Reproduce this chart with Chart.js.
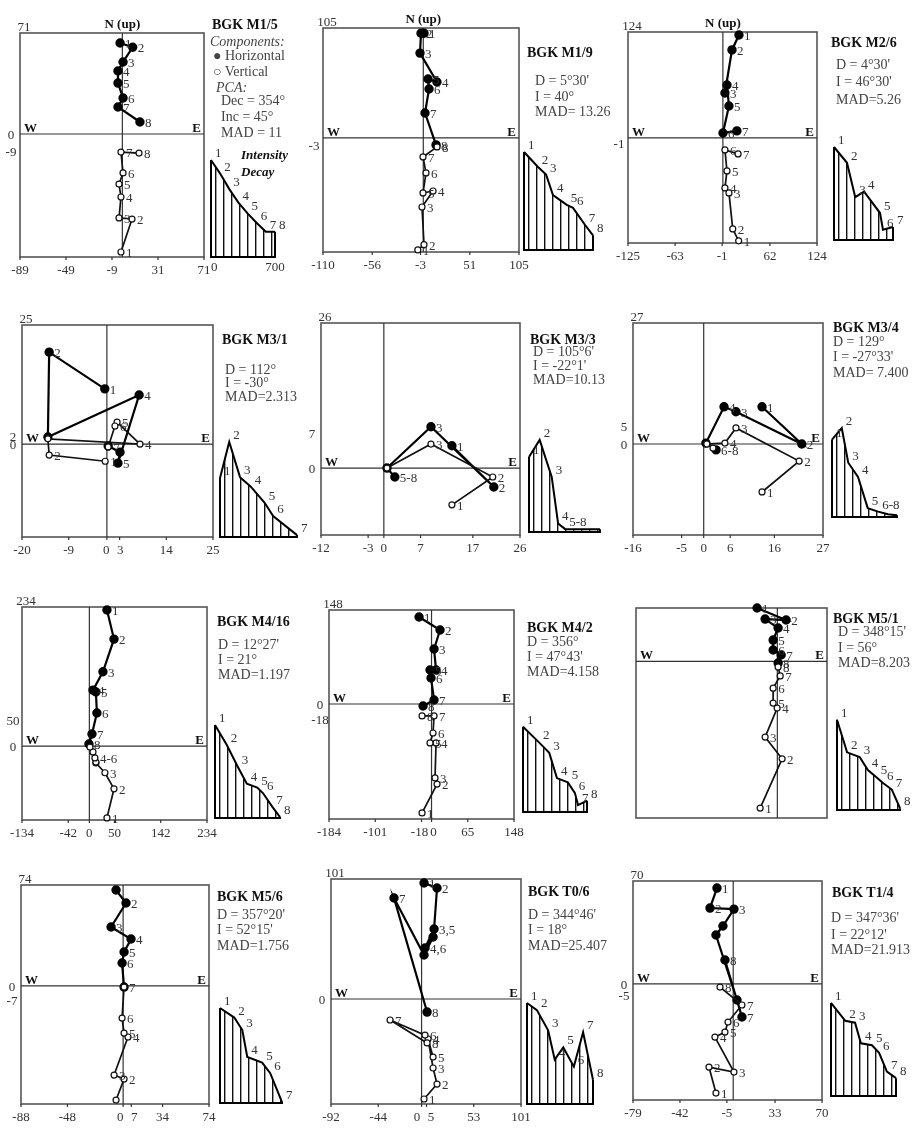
<!DOCTYPE html>
<html>
<head>
<meta charset="utf-8">
<script src="https://cdn.jsdelivr.net/npm/chart.js@4.4.0/dist/chart.umd.min.js"></script>
<style>
    html, body { margin: 0; padding: 0; background: #fff; }
    #sheet { position: relative; width: 919px; height: 1131px; overflow: hidden;
        font-family: "Liberation Serif", "Times New Roman", serif; color: #222; }
    #sheet canvas { position: absolute; }
    .t { position: absolute; white-space: nowrap; line-height: 1; font-size: 13px; }
    .tick { color: #333; }
    .bold { font-weight: bold; color: #111; }
    .ital { font-style: italic; }
    .title { font-weight: bold; font-size: 14px; color: #111; }
    .info { font-size: 14px; color: #444; }
    .num { color: #333; }
</style>
</head>
<body>
<div id="sheet"></div>
<script>
// ---- values (axis units; decay = relative intensity) ----

// BGK M1/5
const ticksM15 = [-89, -49, -9, 31, 71];
const horizM15 = [[-2, 64], [9, 61], [0.6, 50.6], [-3.8, 44.3], [-3.8, 35.8], [0.6, 25.3], [-3.8, 19], [15.3, 8.4]];
const vertM15 = [[-1.2, -83], [8.4, -59.8], [-2.9, -59], [-1.2, -44.3], [-2.9, -35.2], [0.6, -27.4], [-1.2, -12.7], [14.5, -13.4]];
const stepsM15 = [0, 100, 200, 300, 400, 500, 600, 700];
const decayM15 = [1, 0.86, 0.70, 0.56, 0.45, 0.35, 0.26, 0.26];
const infoM15 = ['Dec = 354°', 'Inc = 45°', 'MAD = 11'];

// BGK M1/9
const ticksM19 = [-110, -56, -3, 51, 105];
const horizM19 = [[0.8, 100], [-2.5, 100], [-3.6, 81], [15, 53.4], [5.2, 56.3], [6.3, 46.7], [1.9, 23.8], [14, -6.7]];
const vertM19 = [[-6, -107], [0.8, -102], [-1.4, -66], [10.7, -50.7], [-0.3, -52.6], [3, -33.5], [-0.3, -18.2], [15.1, -8.6]];
const stepsM19 = [0, 20, 32, 42, 62, 71, 88, 100];
const decayM19 = [1, 0.85, 0.77, 0.56, 0.46, 0.43, 0.26, 0.15];
const infoM19 = ["D = 5°30'", 'I = 40°', 'MAD= 13.26'];

// BGK M2/6
const ticksM26 = [-125, -63, -1, 62, 124];
const horizM26 = [[21.2, 120.5], [12, 103], [2.7, 52.6], [5.4, 62], [8, 37.4], [0.1, 5.8], [18.5, 8.2]];
const vertM26 = [[20.8, -120.5], [13, -106.5], [8, -64.4], [2.7, -58.5], [5.4, -38.6], [2.7, -14], [20, -18.7]];
const stepsM26 = [0, 22, 36, 51, 78, 83, 100];
const decayM26 = [1, 0.83, 0.46, 0.52, 0.29, 0.11, 0.14];
const infoM26 = ["D = 4°30'", "I = 46°30'", 'MAD=5.26'];

// BGK M3/1
const ticksM31 = [-20, -9, 0, 3, 14, 25];
const horizM31 = [[-0.5, 11.6], [-13.6, 19.3], [-13.9, 1.5], [7.6, 10.3], [2.6, -4], [3.1, -1.7], [0.3, -0.4]];
const vertM31 = [[-0.4, -3.6], [-13.6, -2.3], [-13.9, 1.1], [7.8, 0], [2.4, 4.6], [1.9, 3.8], [0.3, -0.6]];
const hLabM31 = ['1', '2', '', '4', '5', '', ''];
const vLabM31 = ['1', '2', '', '4', '5', '6', '7'];
const stepsM31 = [0, 12, 26, 40, 58, 69, 100];
const decayM31 = [0.62, 1, 0.63, 0.53, 0.36, 0.22, 0.02];
const infoM31 = ['D = 112°', 'I = -30°', 'MAD=2.313'];

// BGK M3/3
const ticksM33 = [-12, -3, 0, 7, 17, 26];
const horizM33 = [[13, 4], [21, -3.4], [9, 7.4], [0.6, 0], [2.1, -1.6]];
const vertM33 = [[13, -6.6], [20.8, -1.6], [9, 4.3], [0.6, 0]];
const hLabM33 = ['1', '2', '3', '', '5-8'];
const vLabM33 = ['1', '2', '3', ''];
const stepsM33 = [0, 15, 32, 41, 51, 65, 83, 100];
const decayM33 = [0.79, 0.97, 0.58, 0.09, 0.03, 0.03, 0.03, 0.03];
const dLabM33 = ['1', '2', '3', '4', '5-8', '', '', ''];
const infoM33 = ["D = 105°6'", "I = -22°1'", 'MAD=10.13'];

// BGK M3/4
const ticksM34 = [-16, -5, 0, 6, 16, 27];
const horizM34 = [[13.2, 8.3], [22.2, 0], [7.3, 7.2], [4.6, 8.3], [0.5, 0.2], [2.8, -1.3]];
const vertM34 = [[13.2, -10.7], [21.6, -3.8], [7.3, 3.6], [4.8, 0.2], [0.7, 0], [2.1, -0.9]];
const hLabM34 = ['1', '2', '3', '4', '', '6-8'];
const vLabM34 = ['1', '2', '3', '4', '', ''];
const stepsM34 = [0, 15, 25, 40, 55, 71, 86, 100];
const decayM34 = [0.87, 1, 0.61, 0.45, 0.1, 0.06, 0.03, 0.02];
const dLabM34 = ['1', '2', '3', '4', '5', '6-8', '', ''];
const infoM34 = ['D = 129°', "I = -27°33'", 'MAD= 7.400'];

// BGK M4/16
const ticksM416 = [-134, -42, 0, 50, 142, 234];
const horizM416 = [[35, 229], [49, 180], [27, 125], [7.2, 94], [13, 91], [15, 55.6], [5.2, 20.3], [-0.8, 3.4]];
const vertM416 = [[35, -121], [49, -72], [31, -45], [13, -28.5], [13, -27], [11, -20], [7.2, -10], [1.2, -1.7]];
const vLabM416 = ['1', '2', '3', '', '', '4-6', '', ''];
const stepsM416 = [0, 18, 35, 49, 65, 74, 88, 100];
const decayM416 = [0.98, 0.77, 0.54, 0.36, 0.32, 0.26, 0.12, 0.01];
const infoM416 = ["D = 12°27'", 'I = 21°', 'MAD=1.197'];

// BGK M4/2
const ticksM42 = [-184, -101, -18, 0, 65, 148];
const horizM42 = [[-22.4, 137], [15.3, 116.5], [4.5, 86.6], [8.1, 53.6], [-2.7, 53.6], [-0.9, 41], [4.5, 6.3], [-15.2, -3.1]];
const vertM42 = [[-17, -171.5], [9.9, -126], [6.3, -116.4], [8.1, -61.3], [-2.7, -61.3], [2.7, -45.6], [4.5, -18.8], [-17, -18.8]];
const stepsM42 = [0, 25, 41, 53, 70, 81, 86, 100];
const decayM42 = [0.98, 0.8, 0.68, 0.39, 0.34, 0.22, 0.08, 0.13];
const infoM42 = ['D = 356°', "I = 47°43'", 'MAD=4.158'];

// BGK M5/1 (no scale printed)
const horizM51 = [[-10.6, 28], [4.6, 21.7], [-6.4, 22.2], [0.4, 17.5], [-2.2, 11.2], [-2.2, 6], [2, 3.4], [0.4, -0.8]];
const vertM51 = [[-9, -76.8], [2.5, -51], [-6.4, -39.6], [-0.1, -24.4], [-2.2, -21.8], [-2.2, -14], [1.5, -7.6], [0.4, -2.9]];
const stepsM51 = [0, 16, 36, 49, 63, 73, 87, 100];
const decayM51 = [0.97, 0.62, 0.57, 0.43, 0.35, 0.29, 0.22, 0.02];
const infoM51 = ["D = 348°15'", 'I = 56°', 'MAD=8.203'];

// BGK M5/6
const ticksM56 = [-88, -48, 0, 7, 34, 74];
const horizM56 = [[-6.1, 70.3], [2.5, 60.8], [-10.4, 43.2], [6.8, 34.4], [0.8, 24.9], [-0.9, 16.8], [0.8, -0.8]];
const vertM56 = [[-6.1, -83.6], [0.8, -68.2], [-7.8, -65.3], [4.2, -37.4], [0.8, -34.5], [-0.9, -23.5], [0.8, -0.8]];
const hLabM56 = ['', '2', '3', '4', '5', '6', '7'];
const vLabM56 = ['', '2', '3', '4', '5', '6', ''];
const stepsM56 = [0, 23, 36, 44, 68, 81, 100];
const decayM56 = [0.99, 0.89, 0.76, 0.48, 0.42, 0.31, 0.01];
const infoM56 = ["D = 357°20'", "I = 52°15'", 'MAD=1.756'];

// BGK T0/6
const ticksT06 = [-92, -44, 0, 5, 53, 101];
const horizT06 = [[2.5, 97.6], [15.7, 93.4], [12.7, 58.9], [3.5, 42.9], [11.7, 52.2], [2.5, 37], [-28, 85], [5.6, -11]];
const vertT06 = [[2.5, -84.2], [15.7, -71.6], [11.7, -58.1], [6.6, -33.7], [11.7, -48.9], [3.5, -30.4], [-32, -17.7], [5.6, -37]];
const hLabT06 = ['1', '2', '3,5', '4,6', '', '', '7', '8'];
const stepsT06 = [0, 15, 32, 42, 55, 71, 85, 100];
const decayT06 = [1, 0.93, 0.73, 0.44, 0.56, 0.37, 0.71, 0.24];
const infoT06 = ["D = 344°46'", 'I = 18°', 'MAD=25.407'];

// BGK T1/4
const ticksT14 = [-79, -42, -5, 33, 70];
const horizT14 = [[-12.8, 65.2], [-18.3, 51.6], [0.6, 50.9], [-8.1, 39.4], [-13.6, 33.3], [3, -10.9], [6.9, -22.5], [-6.5, 16.3]];
const vertT14 = [[-13.6, -74.2], [-19.1, -56.5], [0.6, -59.9], [-14.4, -36.1], [-6.5, -32.7], [-4.1, -25.9], [6.9, -14.3], [-10.4, -2.1]];
const hLabT14 = ['1', '2', '3', '', '', '', '7', '8'];
const stepsT14 = [0, 22, 37, 46, 63, 74, 86, 100];
const decayT14 = [0.99, 0.8, 0.78, 0.56, 0.54, 0.46, 0.26, 0.19];
const infoT14 = ["D = 347°36'", "I = 22°12'", 'MAD=21.913'];

// ---- layout of the twelve panels ----
const panels = [
    { title: 'BGK M1/5', box: [20, 33, 204, 257], dbox: [211, 160, 275, 257], x: [-89, 71], y: [-86.5, 71],
      ticks: ticksM15, top: '71', zero: '0', extra: [-9, '-9'], north: true,
      horiz: horizM15, vert: vertM15, steps: stepsM15, decay: decayM15, dTicks: ['0', '700'], legend: true },
    { title: 'BGK M1/9', box: [323, 28, 519, 252], dbox: [524, 152, 593, 250], x: [-110, 105], y: [-109, 105],
      ticks: ticksM19, top: '105', extra: [-3, '-3'], north: true,
      horiz: horizM19, vert: vertM19, steps: stepsM19, decay: decayM19,
      info: infoM19, tpos: [527, 53], ipos: [535, 81, 97, 112] },
    { title: 'BGK M2/6', box: [628, 32, 817, 243], dbox: [834, 147, 893, 240], x: [-125, 124], y: [-123, 124],
      ticks: ticksM26, top: '124', extra: [-1, '-1'], north: true,
      horiz: horizM26, vert: vertM26, steps: stepsM26, decay: decayM26,
      info: infoM26, tpos: [831, 43], ipos: [836, 65, 82, 100] },
    { title: 'BGK M3/1', box: [22, 325, 213, 537], dbox: [220, 442, 297, 537], x: [-20, 25], y: [-19.5, 25],
      ticks: ticksM31, top: '25', zero: '0', extra: [2.6, '2'],
      horiz: horizM31, vert: vertM31, hLab: hLabM31, vLab: vLabM31, steps: stepsM31, decay: decayM31,
      info: infoM31, tpos: [222, 340], ipos: [225, 370, 383, 397] },
    { title: 'BGK M3/3', box: [321, 323, 520, 535], dbox: [529, 437, 600, 532], x: [-12, 26], y: [-12, 26],
      ticks: ticksM33, top: '26', zero: '0', extra: [7, '7'],
      horiz: horizM33, vert: vertM33, hLab: hLabM33, vLab: vLabM33, steps: stepsM33, decay: decayM33, dLab: dLabM33,
      info: infoM33, tpos: [530, 340], ipos: [533, 352, 366, 380] },
    { title: 'BGK M3/4', box: [633, 323, 823, 535], dbox: [832, 428, 897, 517], x: [-16, 27], y: [-20.3, 27],
      ticks: ticksM34, top: '27', zero: '0', extra: [5, '5'],
      horiz: horizM34, vert: vertM34, hLab: hLabM34, vLab: vLabM34, steps: stepsM34, decay: decayM34, dLab: dLabM34,
      info: infoM34, tpos: [833, 328], ipos: [833, 342, 357, 373] },
    { title: 'BGK M4/16', box: [22, 607, 207, 820], dbox: [215, 723, 280, 818], x: [-134, 234], y: [-124.5, 234],
      ticks: ticksM416, top: '234', zero: '0', extra: [50, '50'],
      horiz: horizM416, vert: vertM416, vLab: vLabM416, steps: stepsM416, decay: decayM416,
      info: infoM416, tpos: [217, 622], ipos: [218, 645, 660, 675] },
    { title: 'BGK M4/2', box: [329, 610, 514, 819], dbox: [523, 725, 587, 812], x: [-184, 148], y: [-181, 148],
      ticks: ticksM42, top: '148', zero: '0', extra: [-18, '-18'],
      horiz: horizM42, vert: vertM42, steps: stepsM42, decay: decayM42,
      info: infoM42, tpos: [527, 628], ipos: [527, 642, 657, 672] },
    { title: 'BGK M5/1', box: [636, 608, 827, 818], dbox: [837, 717, 900, 810], x: [-74, 26], y: [-82, 28],
      ticks: [], horiz: horizM51, vert: vertM51, steps: stepsM51, decay: decayM51,
      info: infoM51, tpos: [833, 619], ipos: [838, 632, 648, 663] },
    { title: 'BGK M5/6', box: [21, 885, 209, 1104], dbox: [220, 1007, 282, 1103], x: [-88, 74], y: [-86.5, 74],
      ticks: ticksM56, top: '74', zero: '0', extra: [-7, '-7'],
      horiz: horizM56, vert: vertM56, hLab: hLabM56, vLab: vLabM56, steps: stepsM56, decay: decayM56,
      info: infoM56, tpos: [217, 897], ipos: [217, 915, 930, 946] },
    { title: 'BGK T0/6', box: [331, 879, 521, 1104], dbox: [527, 1003, 593, 1104], x: [-92, 101], y: [-88.4, 101],
      ticks: ticksT06, top: '101', zero: '0',
      horiz: horizT06, vert: vertT06, hLab: hLabT06, steps: stepsT06, decay: decayT06,
      info: infoT06, tpos: [528, 892], ipos: [528, 915, 930, 946] },
    { title: 'BGK T1/4', box: [633, 881, 822, 1100], dbox: [831, 1002, 896, 1096], x: [-79, 70], y: [-78.9, 70],
      ticks: ticksT14, top: '70', zero: '0', extra: [-5, '-5'],
      horiz: horizT14, vert: vertT14, hLab: hLabT14, steps: stepsT14, decay: decayT14,
      info: infoT14, tpos: [832, 893], ipos: [831, 918, 935, 950] },
];

const sheet = document.getElementById('sheet');
const PAD = 12;

function put(x, y, text, cls, anchor) {
    const d = document.createElement('div');
    d.className = 't ' + (cls || '');
    d.textContent = text;
    d.style.left = x + 'px';
    d.style.top = y + 'px';
    const tx = anchor === 'l' ? '0' : anchor === 'r' ? '-100%' : '-50%';
    d.style.transform = 'translate(' + tx + ',-50%)';
    sheet.appendChild(d);
}

function makeCanvas(box) {
    const [L, T, R, B] = box;
    const cv = document.createElement('canvas');
    const w = R - L + 2 * PAD, h = B - T + 2 * PAD;
    cv.width = w;
    cv.height = h;
    cv.style.left = (L - PAD) + 'px';
    cv.style.top = (T - PAD) + 'px';
    cv.style.width = w + 'px';
    cv.style.height = h + 'px';
    sheet.appendChild(cv);
    return cv;
}

const baseOptions = (xr, yr) => ({
    responsive: false, animation: false, devicePixelRatio: 1, events: [],
    layout: { padding: PAD },
    plugins: { legend: { display: false }, tooltip: { enabled: false } },
    scales: {
        x: { type: 'linear', min: xr[0], max: xr[1], display: false },
        y: { type: 'linear', min: yr[0], max: yr[1], display: false },
    },
});

function zijderveld(p) {
    const cv = makeCanvas(p.box);
    const frame = {
        id: 'frame',
        beforeDatasetsDraw(chart) {
            const { ctx, chartArea: a, scales: { x, y } } = chart;
            ctx.save();
            ctx.strokeStyle = '#555';
            ctx.lineWidth = 1.6;
            ctx.strokeRect(a.left, a.top, a.right - a.left, a.bottom - a.top);
            ctx.strokeStyle = '#333';
            ctx.lineWidth = 1.2;
            const x0 = x.getPixelForValue(0), y0 = y.getPixelForValue(0);
            ctx.beginPath();
            ctx.moveTo(a.left, y0); ctx.lineTo(a.right, y0);
            ctx.moveTo(x0, a.top); ctx.lineTo(x0, a.bottom);
            p.ticks.forEach(v => {
                const tx = x.getPixelForValue(v);
                ctx.moveTo(tx, a.bottom); ctx.lineTo(tx, a.bottom + 3);
            });
            ctx.stroke();
            ctx.restore();
        },
    };
    const chart = new Chart(cv, {
        type: 'scatter',
        data: {
            datasets: [
                { data: p.vert.map(([x, y]) => ({ x, y })), showLine: true, borderColor: '#111', borderWidth: 1.7,
                  pointRadius: 3, pointBackgroundColor: '#fff', pointBorderColor: '#111', pointBorderWidth: 1.2, clip: false },
                { data: p.horiz.map(([x, y]) => ({ x, y })), showLine: true, borderColor: '#000', borderWidth: 2.2,
                  pointRadius: 3.6, pointBackgroundColor: '#000', pointBorderColor: '#000', clip: false },
            ],
        },
        options: baseOptions(p.x, p.y),
        plugins: [frame],
    });

    const ox = p.box[0] - PAD, oy = p.box[1] - PAD;
    const sx = chart.scales.x, sy = chart.scales.y;
    const px = v => ox + sx.getPixelForValue(v);
    const py = v => oy + sy.getPixelForValue(v);
    const [L, T, R, B] = p.box;

    // bottom tick labels, nudged apart when they crowd
    const pos = p.ticks.map(px);
    for (let i = 1; i < pos.length; i++) {
        if (pos[i] - pos[i - 1] < 14) {
            const mid = (pos[i] + pos[i - 1]) / 2;
            pos[i - 1] = mid - 7;
            pos[i] = mid + 7;
        }
    }
    p.ticks.forEach((v, i) => put(pos[i], B + 12, String(v), 'tick'));

    if (p.top) put(L + 4, T - 7, p.top, 'tick');
    if (p.zero) put(L - 9, py(0), p.zero, 'tick');
    if (p.extra) put(L - 9, py(p.extra[0]) + 4, p.extra[1], 'tick');
    if (p.north) put(px(0), T - 10, 'N (up)', 'bold');
    put(L + 4, py(0) - 7, 'W', 'bold', 'l');
    put(R - 3, py(0) - 7, 'E', 'bold', 'r');

    p.horiz.forEach(([x, y], i) => {
        const lab = p.hLab ? p.hLab[i] : String(i + 1);
        if (lab) put(px(x) + 5, py(y), lab, 'num', 'l');
    });
    p.vert.forEach(([x, y], i) => {
        const lab = p.vLab ? p.vLab[i] : String(i + 1);
        if (lab) put(px(x) + 5, py(y), lab, 'num', 'l');
    });
}

const hatchTile = (() => {
    const c = document.createElement('canvas');
    c.width = 8; c.height = 8;
    const g = c.getContext('2d');
    g.fillStyle = '#fff'; g.fillRect(0, 0, 8, 8);
    g.fillStyle = '#111'; g.fillRect(0, 0, 1.4, 8);
    return c;
})();

function decayPlot(p) {
    const cv = makeCanvas(p.dbox);
    const last = p.steps[p.steps.length - 1];
    const outline = {
        id: 'outline',
        afterDatasetsDraw(chart) {
            const { ctx, scales: { x, y } } = chart;
            const x0 = x.getPixelForValue(p.steps[0]), x1 = x.getPixelForValue(last);
            const yb = y.getPixelForValue(0);
            ctx.save();
            ctx.strokeStyle = '#000';
            ctx.lineWidth = 2;
            ctx.beginPath();
            ctx.moveTo(x0, y.getPixelForValue(p.decay[0]));
            ctx.lineTo(x0, yb);
            ctx.lineTo(x1, yb);
            ctx.lineTo(x1, y.getPixelForValue(p.decay[p.decay.length - 1]));
            ctx.stroke();
            ctx.restore();
        },
    };
    const chart = new Chart(cv, {
        type: 'line',
        data: {
            datasets: [{
                data: p.steps.map((s, i) => ({ x: s, y: p.decay[i] })),
                fill: 'origin',
                backgroundColor: c => c.chart.ctx.createPattern(hatchTile, 'repeat'),
                borderColor: '#000', borderWidth: 2, pointRadius: 0, tension: 0, clip: false,
            }],
        },
        options: baseOptions([p.steps[0], last], [0, 1]),
        plugins: [outline],
    });
    const ox = p.dbox[0] - PAD, oy = p.dbox[1] - PAD;
    const px = v => ox + chart.scales.x.getPixelForValue(v);
    const py = v => oy + chart.scales.y.getPixelForValue(v);
    p.steps.forEach((s, i) => {
        const lab = p.dLab ? p.dLab[i] : String(i + 1);
        if (lab) put(px(s) + 4, py(p.decay[i]) - 8, lab, 'num', 'l');
    });
    if (p.dTicks) {
        put(px(p.steps[0]), p.dbox[3] + 9, p.dTicks[0], 'tick', 'l');
        put(px(last), p.dbox[3] + 9, p.dTicks[1], 'tick');
    }
}

function infoBlock(p) {
    if (p.legend) {
        put(212, 25, p.title, 'title', 'l');
        put(210, 42, 'Components:', 'info ital', 'l');
        put(213, 56, '● Horizontal', 'info', 'l');
        put(213, 72, '○ Vertical', 'info', 'l');
        put(216, 88, 'PCA:', 'info ital', 'l');
        infoM15.forEach((s, i) => put(221, 101 + i * 16, s, 'info', 'l'));
        put(241, 154, 'Intensity', 'bold ital', 'l');
        put(241, 171, 'Decay', 'bold ital', 'l');
        return;
    }
    put(p.tpos[0], p.tpos[1], p.title, 'title', 'l');
    p.info.forEach((s, i) => put(p.ipos[0], p.ipos[i + 1], s, 'info', 'l'));
}

panels.forEach(p => {
    zijderveld(p);
    decayPlot(p);
    infoBlock(p);
});
</script>
</body>
</html>
